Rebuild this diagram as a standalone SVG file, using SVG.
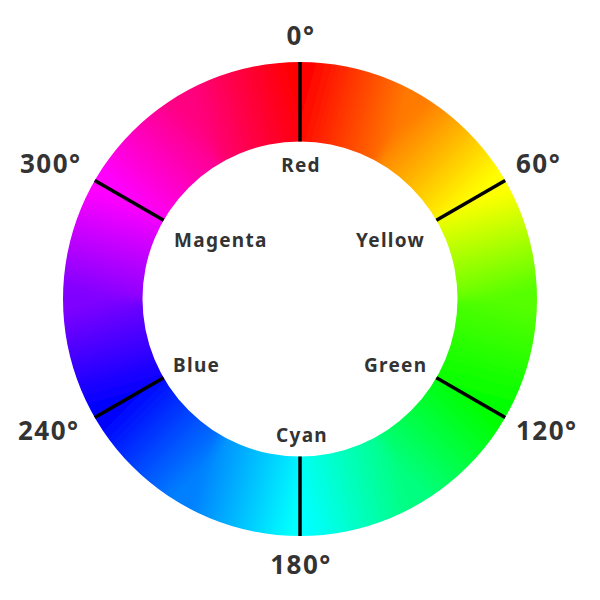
<svg xmlns="http://www.w3.org/2000/svg" width="600" height="600" viewBox="0 0 600 600">
<style>
.deg{font-family:"Noto Sans","Open Sans",sans-serif;font-weight:700;font-size:26px;fill:#333;letter-spacing:1.5px}
.name{font-family:"Noto Sans","Open Sans",sans-serif;font-weight:700;font-size:19px;fill:#333;letter-spacing:1.3px}
.div{stroke:#000;stroke-width:3.5;stroke-linecap:butt}
</style>
<defs>
<linearGradient id="g0" gradientUnits="userSpaceOnUse" x1="300" y1="102" x2="398.5" y2="128.4"><stop offset="0" stop-color="#ff0000"/><stop offset="1" stop-color="#ff7a00"/></linearGradient>
<linearGradient id="g1" gradientUnits="userSpaceOnUse" x1="398.5" y1="128.4" x2="470.6" y2="200.5"><stop offset="0" stop-color="#ff7a00"/><stop offset="1" stop-color="#ffff00"/></linearGradient>
<linearGradient id="g2" gradientUnits="userSpaceOnUse" x1="470.6" y1="200.5" x2="497" y2="299"><stop offset="0" stop-color="#ffff00"/><stop offset="1" stop-color="#55ff00"/></linearGradient>
<linearGradient id="g3" gradientUnits="userSpaceOnUse" x1="497" y1="299" x2="470.6" y2="397.5"><stop offset="0" stop-color="#55ff00"/><stop offset="1" stop-color="#00ff00"/></linearGradient>
<linearGradient id="g4" gradientUnits="userSpaceOnUse" x1="470.6" y1="397.5" x2="398.5" y2="469.6"><stop offset="0" stop-color="#00ff00"/><stop offset="1" stop-color="#00ff80"/></linearGradient>
<linearGradient id="g5" gradientUnits="userSpaceOnUse" x1="398.5" y1="469.6" x2="300" y2="496"><stop offset="0" stop-color="#00ff80"/><stop offset="1" stop-color="#00ffff"/></linearGradient>
<linearGradient id="g6" gradientUnits="userSpaceOnUse" x1="300" y1="496" x2="201.5" y2="469.6"><stop offset="0" stop-color="#00ffff"/><stop offset="1" stop-color="#0080ff"/></linearGradient>
<linearGradient id="g7" gradientUnits="userSpaceOnUse" x1="201.5" y1="469.6" x2="129.4" y2="397.5"><stop offset="0" stop-color="#0080ff"/><stop offset="1" stop-color="#0000ff"/></linearGradient>
<linearGradient id="g8" gradientUnits="userSpaceOnUse" x1="129.4" y1="397.5" x2="103" y2="299"><stop offset="0" stop-color="#0000ff"/><stop offset="1" stop-color="#8000ff"/></linearGradient>
<linearGradient id="g9" gradientUnits="userSpaceOnUse" x1="103" y1="299" x2="129.4" y2="200.5"><stop offset="0" stop-color="#8000ff"/><stop offset="1" stop-color="#ff00ff"/></linearGradient>
<linearGradient id="g10" gradientUnits="userSpaceOnUse" x1="129.4" y1="200.5" x2="201.5" y2="128.4"><stop offset="0" stop-color="#ff00ff"/><stop offset="1" stop-color="#ff0080"/></linearGradient>
<linearGradient id="g11" gradientUnits="userSpaceOnUse" x1="201.5" y1="128.4" x2="300" y2="102"><stop offset="0" stop-color="#ff0080"/><stop offset="1" stop-color="#ff0000"/></linearGradient>
<filter id="soft" filterUnits="userSpaceOnUse" x="0" y="0" width="600" height="600"><feGaussianBlur stdDeviation="4"/></filter>
<clipPath id="ring"><path clip-rule="evenodd" d="M300,62A237,237 0 1,1 300,536A237,237 0 1,1 300,62ZM300,141.5A157.5,157.5 0 1,0 300,456.5A157.5,157.5 0 1,0 300,141.5Z"/></clipPath>
</defs>
<rect width="600" height="600" fill="#fff"/>
<g id="wheel" clip-path="url(#ring)">
<g filter="url(#soft)" stroke-width="1.5" stroke-linejoin="round">
<path fill="url(#g0)" stroke="url(#g0)" d="M300,299L300,19L440,56.5Z"/>
<path fill="url(#g1)" stroke="url(#g1)" d="M300,299L440,56.5L542.5,159Z"/>
<path fill="url(#g2)" stroke="url(#g2)" d="M300,299L542.5,159L580,299Z"/>
<path fill="url(#g3)" stroke="url(#g3)" d="M300,299L580,299L542.5,439Z"/>
<path fill="url(#g4)" stroke="url(#g4)" d="M300,299L542.5,439L440,541.5Z"/>
<path fill="url(#g5)" stroke="url(#g5)" d="M300,299L440,541.5L300,579Z"/>
<path fill="url(#g6)" stroke="url(#g6)" d="M300,299L300,579L160,541.5Z"/>
<path fill="url(#g7)" stroke="url(#g7)" d="M300,299L160,541.5L57.5,439Z"/>
<path fill="url(#g8)" stroke="url(#g8)" d="M300,299L57.5,439L20,299Z"/>
<path fill="url(#g9)" stroke="url(#g9)" d="M300,299L20,299L57.5,159Z"/>
<path fill="url(#g10)" stroke="url(#g10)" d="M300,299L57.5,159L160,56.5Z"/>
<path fill="url(#g11)" stroke="url(#g11)" d="M300,299L160,56.5L300,19Z"/>
</g>
</g>
<g id="connectors">
<line class="div" x1="300" y1="141.5" x2="300" y2="62"/>
<line class="div" x1="436.4" y1="220.25" x2="505.2" y2="180.5"/>
<line class="div" x1="436.4" y1="377.75" x2="505.2" y2="417.5"/>
<line class="div" x1="300" y1="456.5" x2="300" y2="536"/>
<line class="div" x1="163.6" y1="377.75" x2="94.8" y2="417.5"/>
<line class="div" x1="163.6" y1="220.25" x2="94.8" y2="180.5"/>
</g>
<g id="deg0"><text class="deg" x="301" y="45" text-anchor="middle">0°</text></g>
<g id="deg60"><text class="deg" x="516" y="173">60°</text></g>
<g id="deg120"><text class="deg" x="516" y="440">120°</text></g>
<g id="deg180"><text class="deg" x="301" y="574" text-anchor="middle">180°</text></g>
<g id="deg240"><text class="deg" x="18" y="440">240°</text></g>
<g id="deg300"><text class="deg" x="20" y="173">300°</text></g>
<g id="red"><text class="name" x="301" y="172" text-anchor="middle">Red</text></g>
<g id="yellow"><text class="name" x="356" y="247">Yellow</text></g>
<g id="green"><text class="name" x="364" y="372">Green</text></g>
<g id="cyan"><text class="name" x="302" y="442" text-anchor="middle">Cyan</text></g>
<g id="blue"><text class="name" x="173" y="372">Blue</text></g>
<g id="magenta"><text class="name" x="174" y="247">Magenta</text></g>
</svg>
